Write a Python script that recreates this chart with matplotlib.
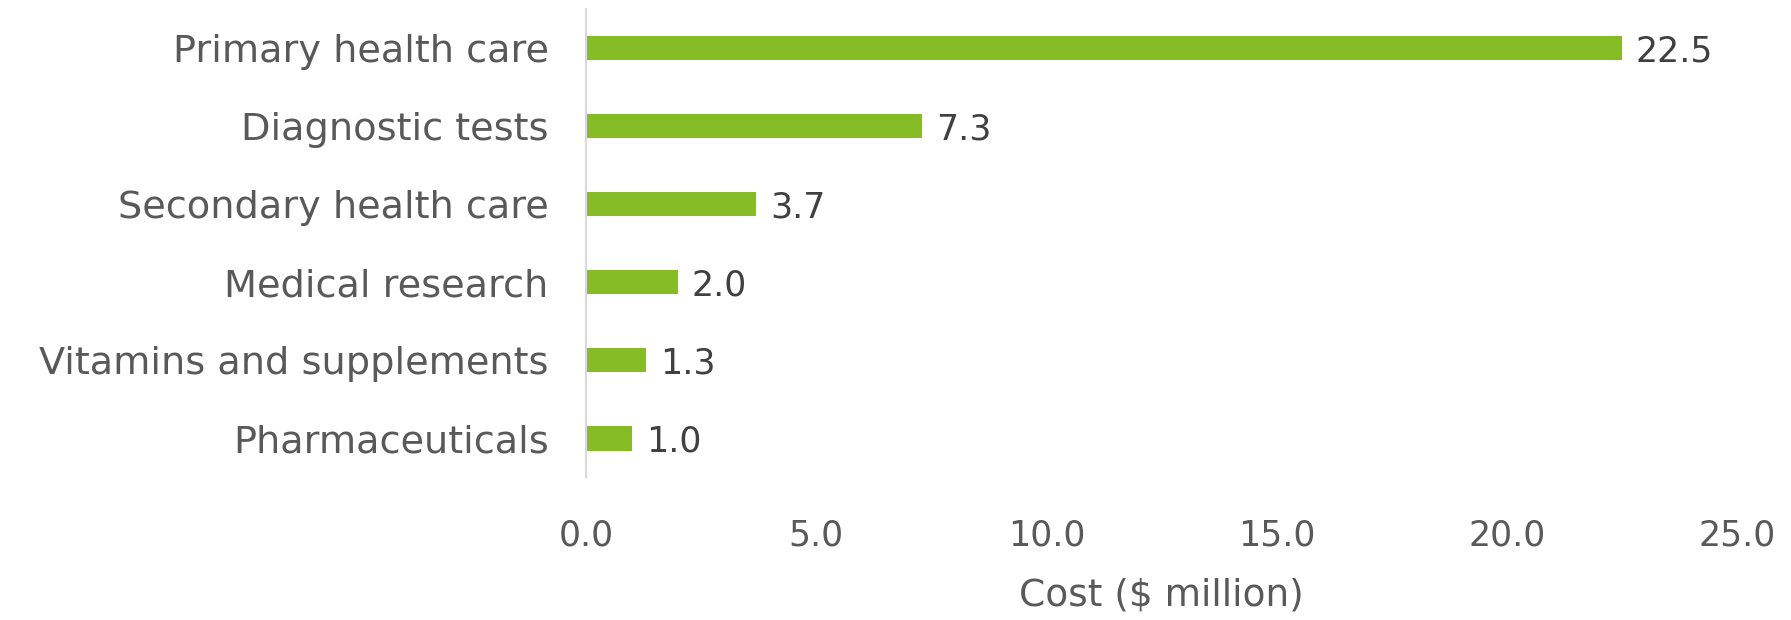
import matplotlib
matplotlib.use("Agg")
import matplotlib.pyplot as plt

# cost components, top to bottom
categories = ["Primary health care", "Diagnostic tests", "Secondary health care",
              "Medical research", "Vitamins and supplements", "Pharmaceuticals"]
costs = [22.5, 7.3, 3.7, 2.0, 1.3, 1.0]
xticks = [0, 5, 10, 15, 20, 25]

green = "#86BC25"
grey = "#595959"

plt.rcParams["font.family"] = "DejaVu Sans"

fig = plt.figure(figsize=(17.91, 6.20), dpi=100)
ax = fig.add_axes([0.3272, 0.2306, 0.9699 - 0.3272, 0.9855 - 0.2306])

bars = ax.barh(range(len(categories)), costs, height=0.32, color=green)
labels = ax.bar_label(bars, fmt="%.1f", padding=10, fontsize=25, color="#404040")
for t in labels:
    t.set_va("center_baseline")

ax.set_ylim(len(categories) - 0.5, -0.5)
ax.set_yticks(range(len(categories)))
ax.set_yticklabels(categories)
ax.set_xlim(0, 25)
ax.set_xticks(xticks)
ax.set_xticklabels([f"{t:.1f}" for t in xticks])

ax.tick_params(axis="y", length=0, pad=27, labelsize=27.5, labelcolor=grey)
ax.tick_params(axis="x", length=0, pad=30, labelsize=25, labelcolor=grey)

for side in ["top", "right", "bottom"]:
    ax.spines[side].set_visible(False)
ax.spines["left"].set_color("#D9D9D9")
ax.spines["left"].set_linewidth(1.5)

ax.set_xlabel("Cost ($ million)", fontsize=27, color=grey, labelpad=18)

fig.savefig("out.png", dpi=100)
